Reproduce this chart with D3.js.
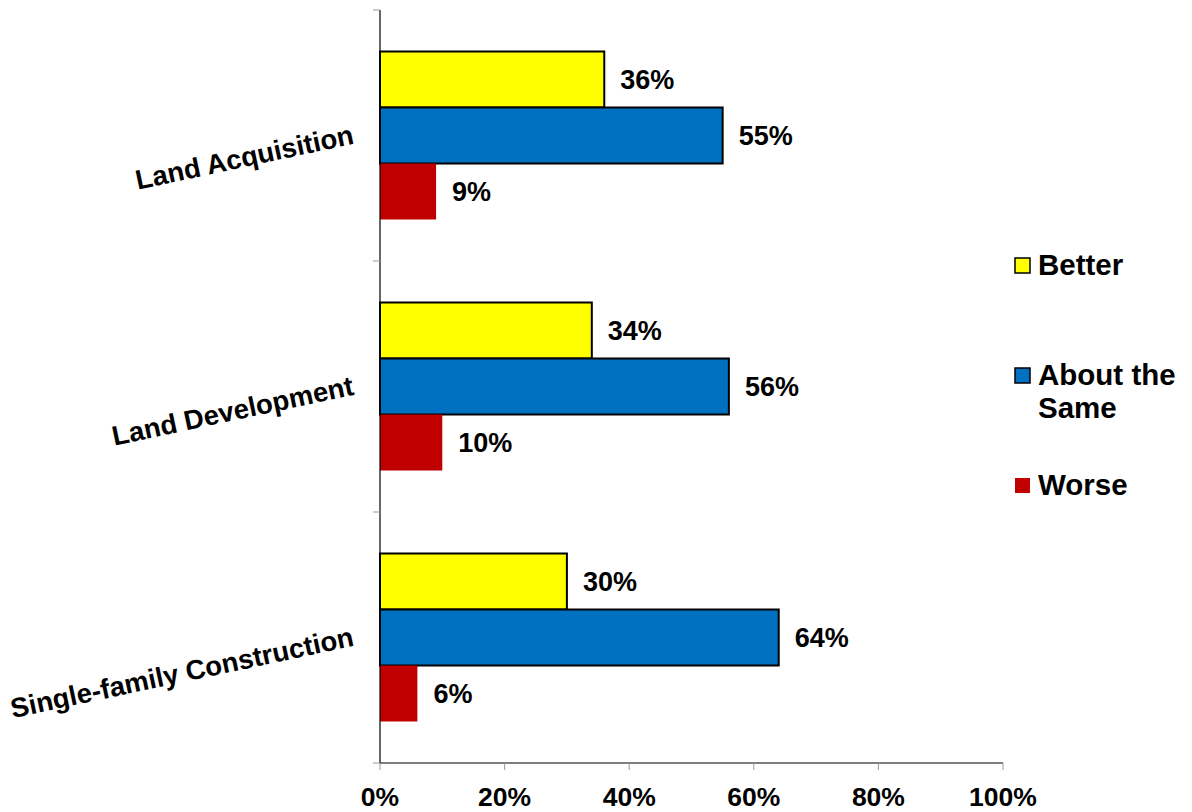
<!DOCTYPE html>
<html>
<head>
<meta charset="utf-8">
<script src="https://cdn.jsdelivr.net/npm/d3@7"></script>
<style>
  html, body { margin: 0; padding: 0; background: #fff; }
  svg text { font-family: "Liberation Sans", Arial, sans-serif; font-weight: bold; fill: #000; }
</style>
</head>
<body>
<svg id="chart" width="1192" height="812"></svg>
<script>
// Survey categories and response shares (percent)
const categories = ["Land Acquisition", "Land Development", "Single-family Construction"];
const seriesNames = ["Better", "About the Same", "Worse"];
const better = [36, 34, 30];
const aboutSame = [55, 56, 64];
const worse = [9, 10, 6];
const xTicks = [0, 20, 40, 60, 80, 100];

const seriesValues = [better, aboutSame, worse];
const colors = ["#FFFF00", "#0070C0", "#C00000"];
const strokes = ["#000", "#000", "none"];

const svg = d3.select("#chart");
const plotLeft = 380, plotRight = 1003, plotTop = 10, plotBottom = 763;

const x = d3.scaleLinear().domain([0, 100]).range([plotLeft, plotRight]);
const y = d3.scaleBand().domain(categories).range([plotTop, plotBottom]).padding(0);
const inner = d3.scaleBand().domain(seriesNames)
  .range([41.5, y.bandwidth() - 41.5]).padding(0);

const rows = [];
categories.forEach((c, ci) => {
  seriesNames.forEach((s, si) => {
    rows.push({ cat: c, series: s, si, value: seriesValues[si][ci] });
  });
});

// Bars
const barLayer = svg.append("g");
barLayer.selectAll("rect")
  .data(rows)
  .join("rect")
  .attr("x", x(0))
  .attr("y", d => y(d.cat) + inner(d.series))
  .attr("width", d => x(d.value) - x(0))
  .attr("height", inner.bandwidth())
  .attr("fill", d => colors[d.si])
  .attr("stroke", d => strokes[d.si])
  .attr("stroke-width", 2);

// Value labels
barLayer.selectAll("text")
  .data(rows)
  .join("text")
  .attr("x", d => x(d.value) + 16)
  .attr("y", d => y(d.cat) + inner(d.series) + inner.bandwidth() / 2 + 9.5)
  .attr("font-size", 27)
  .text(d => d.value + "%");

// Left axis
const yAxis = svg.append("g");
yAxis.append("line")
  .attr("x1", plotLeft).attr("x2", plotLeft)
  .attr("y1", plotTop).attr("y2", plotBottom)
  .attr("stroke", "#000").attr("stroke-width", 1.2);
const yTickPos = categories.map(c => y(c)).concat([plotBottom]);
yAxis.selectAll("line.tick")
  .data(yTickPos)
  .join("line")
  .attr("class", "tick")
  .attr("x1", plotLeft - 7).attr("x2", plotLeft)
  .attr("y1", d => d).attr("y2", d => d)
  .attr("stroke", "#999").attr("stroke-width", 1);

// Rotated category labels
yAxis.selectAll("text")
  .data(categories)
  .join("text")
  .attr("text-anchor", "end")
  .attr("font-size", 27.5)
  .attr("transform", d => `translate(355,${y(d) + y.bandwidth() / 2 + 8}) rotate(-12)`)
  .text(d => d);

// Bottom axis
const xAxis = svg.append("g");
xAxis.append("line")
  .attr("x1", plotLeft).attr("x2", plotRight)
  .attr("y1", plotBottom).attr("y2", plotBottom)
  .attr("stroke", "#000").attr("stroke-width", 1.2);
xAxis.selectAll("line.tick")
  .data(xTicks)
  .join("line")
  .attr("class", "tick")
  .attr("x1", d => x(d)).attr("x2", d => x(d))
  .attr("y1", plotBottom).attr("y2", plotBottom + 7)
  .attr("stroke", "#999").attr("stroke-width", 1);
xAxis.selectAll("text")
  .data(xTicks)
  .join("text")
  .attr("x", d => x(d))
  .attr("y", 806)
  .attr("text-anchor", "middle")
  .attr("font-size", 26.5)
  .text(d => d + "%");

// Legend
const legendItems = [
  { lines: ["Better"], y: 273 },
  { lines: ["About the", "Same"], y: 383 },
  { lines: ["Worse"], y: 493 }
];
const legend = svg.append("g");
legendItems.forEach((item, i) => {
  legend.append("rect")
    .attr("x", 1015).attr("y", item.y - 15)
    .attr("width", 15).attr("height", 15)
    .attr("fill", colors[i])
    .attr("stroke", strokes[i])
    .attr("stroke-width", 1.5);
  const t = legend.append("text")
    .attr("x", 1038).attr("y", item.y + 2)
    .attr("font-size", 29.5);
  item.lines.forEach((ln, li) => {
    t.append("tspan").attr("x", 1038).attr("dy", li === 0 ? 0 : 33).text(ln);
  });
});
</script>
</body>
</html>
